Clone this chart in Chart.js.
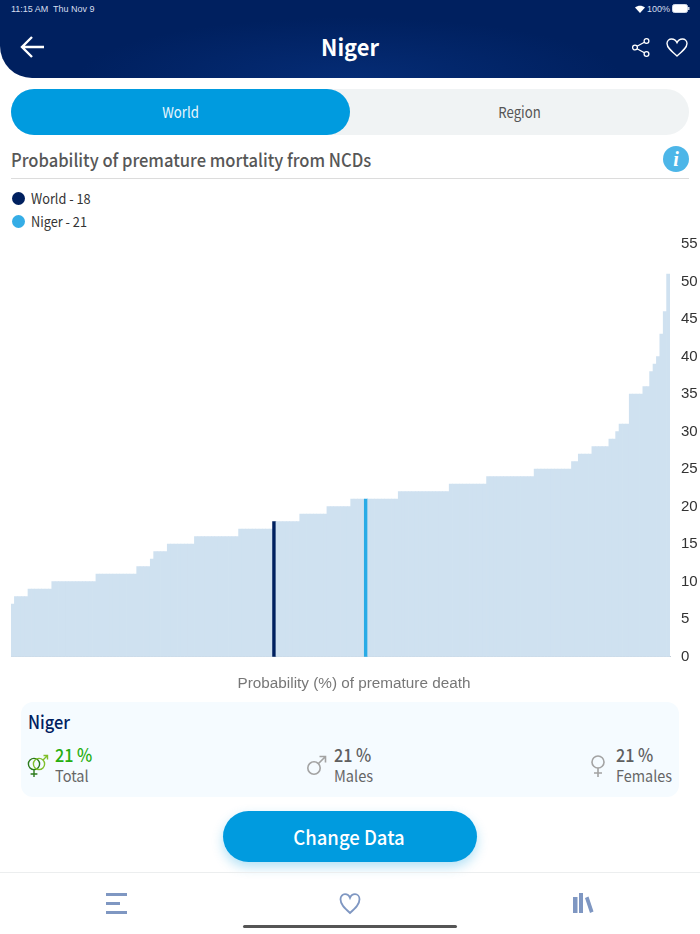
<!DOCTYPE html>
<html>
<head>
<meta charset="utf-8">
<title>Niger</title>
<script src="https://cdn.jsdelivr.net/npm/chart.js@4/dist/chart.umd.min.js"></script>
<style>
html, body { margin: 0; padding: 0; background: #fff; }
body { position: relative; width: 700px; height: 934px; overflow: hidden; font-family: "Noto Sans CJK SC", "Noto Sans", sans-serif; }
.abs { position: absolute; white-space: nowrap; line-height: 1; transform-origin: left center; }
.mid { transform-origin: center center; }
#header { position: absolute; left: 0; top: 0; width: 700px; height: 78px; border-bottom-left-radius: 32px; background: radial-gradient(ellipse at 50% 100%, #052c75 0%, #00205f 55%); }
#tabs { position: absolute; left: 11px; top: 89px; width: 678px; height: 46px; border-radius: 23px; background: #f0f3f4; }
#tabOn { position: absolute; left: 11px; top: 89px; width: 339px; height: 46px; border-radius: 23px; background: #009bdf; }
#rule { position: absolute; left: 11px; top: 178px; width: 678px; height: 1px; background: #dcdcdc; }
.dot { position: absolute; left: 12px; width: 13px; height: 13px; border-radius: 50%; }
#card { position: absolute; left: 21px; top: 702px; width: 658px; height: 95px; border-radius: 12px; background: #f5fbff; }
#btn { position: absolute; left: 223px; top: 811px; width: 254px; height: 51px; border-radius: 26px; background: #009bdf; box-shadow: 0 5px 12px rgba(0,155,223,.3); }
#navLine { position: absolute; left: 0; top: 872px; width: 700px; height: 1px; background: #eceeef; }
#homeBar { position: absolute; left: 243px; top: 925px; width: 214px; height: 3px; border-radius: 2px; background: #555; }
#chart { position: absolute; left: 3px; top: 224px; }
svg { position: absolute; overflow: visible; }
</style>
</head>
<body>
<div id="header"></div>
<div class="abs" style="left:11px;top:4px;font:9px 'Liberation Sans';color:#d5deee">11:15 AM</div>
<div class="abs" style="left:53px;top:4px;font:9px 'Liberation Sans';color:#d5deee">Thu Nov 9</div>
<div class="abs" style="left:647px;top:4px;font:9px 'Liberation Sans';color:#d5deee">100%</div>
<svg style="left:635px;top:5px" width="10" height="8" viewBox="0 0 10 8"><path d="M0 2.6C3 0 7 0 10 2.6L5 8Z" fill="#fff"/></svg>
<svg style="left:672px;top:4px" width="18" height="9" viewBox="0 0 18 9"><rect x="0.5" y="0.5" width="15" height="8" rx="2" fill="#fff" stroke="#cfd8e8"/><rect x="16" y="3" width="1.5" height="3" fill="#cfd8e8"/></svg>
<svg style="left:20px;top:36px" width="25" height="22" viewBox="0 0 25 22"><path d="M12 1L2 11L12 21M2 11H24" fill="none" stroke="#fff" stroke-width="2.4"/></svg>
<div class="abs mid" style="left:0;width:700px;top:35px;text-align:center;font-size:23px;font-weight:700;color:#fff;transform:scaleX(.95)">Niger</div>
<svg style="left:632px;top:38px" width="18" height="19" viewBox="0 0 18 19"><g fill="none" stroke="#fff" stroke-width="1.3"><circle cx="3" cy="9.5" r="2.4"/><circle cx="14.5" cy="3" r="2.4"/><circle cx="14.5" cy="16" r="2.4"/><path d="M5 8.3L12.4 4.2M5 10.7L12.4 14.8"/></g></svg>
<svg style="left:666px;top:38px" width="22" height="19" viewBox="0 0 22 19"><path d="M11 18C5 13 1 9.5 1 5.6C1 2.8 3.2 1 5.6 1C7.8 1 9.8 2.2 11 4.6C12.2 2.2 14.2 1 16.4 1C18.8 1 21 2.8 21 5.6C21 9.5 17 13 11 18Z" fill="none" stroke="#fff" stroke-width="1.4"/></svg>

<div id="tabs"></div>
<div id="tabOn"></div>
<div class="abs mid" style="left:11px;width:339px;top:104px;text-align:center;font-size:15px;color:#e8f6fd;transform:scaleX(.88)">World</div>
<div class="abs mid" style="left:350px;width:339px;top:104px;text-align:center;font-size:15px;color:#555;transform:scaleX(.88)">Region</div>

<div class="abs" style="left:11px;top:150px;font-size:18px;font-weight:500;color:#575757;transform:scaleX(.92)">Probability of premature mortality from NCDs</div>
<svg style="left:663px;top:146px" width="26" height="26" viewBox="0 0 26 26"><circle cx="13" cy="13" r="13" fill="#4db6e8"/><text x="13" y="20" text-anchor="middle" font-family="Liberation Serif" font-style="italic" font-weight="700" font-size="20" fill="#fff">i</text></svg>
<div id="rule"></div>

<div class="dot" style="top:192px;background:#00205f"></div>
<div class="abs" id="legendWorld" style="left:31px;top:191px;font-size:14px;color:#333;transform:scaleX(.91)"></div>
<div class="dot" style="top:215px;background:#35ade6"></div>
<div class="abs" id="legendNiger" style="left:31px;top:214px;font-size:14px;color:#333;transform:scaleX(.91)"></div>

<canvas id="chart" width="694" height="475" style="width:694px;height:475px"></canvas>

<div id="card"></div>
<div class="abs" style="left:28px;top:712px;font-size:18px;font-weight:500;color:#00205f;transform:scaleX(.91)">Niger</div>

<svg style="left:26px;top:754px" width="24" height="24" viewBox="0 0 24 24"><g fill="none" stroke-width="1.4"><circle cx="8" cy="10" r="5.6" stroke="#2b7a1b"/><path d="M8 15.6V23M4.6 20H11.4" stroke="#2b7a1b"/><circle cx="13" cy="10" r="5.6" stroke="#7fbf2a"/><path d="M17 6L21.5 1.5M17.5 1.5H21.5V5.5" stroke="#7fbf2a"/></g></svg>
<div class="abs" style="left:55px;top:745px;font-size:18px;font-weight:500;color:#27ae0f;transform:scaleX(.9)">21 %</div>
<div class="abs" style="left:55px;top:768px;font-size:15.5px;color:#666;transform:scaleX(.94)">Total</div>

<svg style="left:306px;top:755px" width="21" height="21" viewBox="0 0 21 21"><g fill="none" stroke="#a3a3a3" stroke-width="1.6"><circle cx="8" cy="13" r="6.2"/><path d="M12.5 8.5L19.5 1.5M13.5 1.5H19.5V7.5"/></g></svg>
<div class="abs" style="left:334px;top:745px;font-size:18px;font-weight:500;color:#5f5f5f;transform:scaleX(.9)">21 %</div>
<div class="abs" style="left:334px;top:768px;font-size:15.5px;color:#666;transform:scaleX(.94)">Males</div>

<svg style="left:590px;top:754px" width="16" height="24" viewBox="0 0 16 24"><g fill="none" stroke="#a3a3a3" stroke-width="1.6"><circle cx="8" cy="8" r="6"/><path d="M8 14V23M4 19H12"/></g></svg>
<div class="abs" style="left:616px;top:745px;font-size:18px;font-weight:500;color:#5f5f5f;transform:scaleX(.9)">21 %</div>
<div class="abs" style="left:616px;top:768px;font-size:15.5px;color:#666;transform:scaleX(.93)">Females</div>

<div id="btn"></div>
<div class="abs mid" style="left:223px;width:252px;top:827px;text-align:center;font-size:20px;font-weight:500;color:#fff;transform:scaleX(.925)">Change Data</div>
<div id="navLine"></div>

<svg style="left:106px;top:893px" width="22" height="21" viewBox="0 0 22 21"><g fill="#7f97c2"><rect x="0" y="0" width="21" height="3"/><rect x="0" y="9" width="14" height="3"/><rect x="0" y="18" width="21" height="3"/></g></svg>
<svg style="left:339px;top:893px" width="22" height="21" viewBox="0 0 22 21"><path d="M11 20C5 14.5 1.5 11 1.5 6.2C1.5 3.2 3.6 1.2 6 1.2C8 1.2 10 2.4 11 4.8C12 2.4 14 1.2 16 1.2C18.4 1.2 20.5 3.2 20.5 6.2C20.5 11 17 14.5 11 20Z" fill="none" stroke="#7f97c2" stroke-width="1.8"/></svg>
<svg style="left:573px;top:893px" width="21" height="20" viewBox="0 0 21 20"><g fill="#7f97c2"><rect x="0" y="4" width="4.5" height="16"/><rect x="6" y="0" width="4" height="20"/><path d="M12 5L15.5 3.5L20.5 18.5L17 20Z"/></g></svg>
<div id="homeBar"></div>

<script>
// one bar per country, sorted low to high
var probability = [
	7, 8, 8, 8, 8, 9, 9, 9, 9, 9, 9, 9,
	10, 10, 10, 10, 10, 10, 10, 10, 10, 10, 10, 10, 10,
	11, 11, 11, 11, 11, 11, 11, 11, 11, 11, 11, 11,
	12, 12, 12, 12, 13, 14, 14, 14, 14,
	15, 15, 15, 15, 15, 15, 15, 15,
	16, 16, 16, 16, 16, 16, 16, 16, 16, 16, 16, 16, 16,
	17, 17, 17, 17, 17, 17, 17, 17, 17, 17,
	18, 18, 18, 18, 18, 18, 18, 18,
	19, 19, 19, 19, 19, 19, 19, 19,
	20, 20, 20, 20, 20, 20, 20,
	21, 21, 21, 21, 21, 21, 21, 21, 21, 21, 21, 21, 21, 21,
	22, 22, 22, 22, 22, 22, 22, 22, 22, 22, 22, 22, 22, 22, 22,
	23, 23, 23, 23, 23, 23, 23, 23, 23, 23, 23,
	24, 24, 24, 24, 24, 24, 24, 24, 24, 24, 24, 24, 24, 24,
	25, 25, 25, 25, 25, 25, 25, 25, 25, 25, 25,
	26, 26, 27, 27, 27, 27, 28, 28, 28, 28, 28,
	29, 29, 30, 31, 31, 31, 35, 35, 35, 35, 36, 36,
	38, 39, 40, 43, 46, 51
];
var ranks = probability.map(function(v, i) { return i + 1; });
var yTicks = [0, 5, 10, 15, 20, 25, 30, 35, 40, 45, 50, 55];
var worldRank = 78;
var nigerRank = 105;
var worldValue = 18;
var nigerValue = 21;
var xTitle = 'Probability (%) of premature death';

document.getElementById('legendWorld').textContent = 'World - ' + worldValue;
document.getElementById('legendNiger').textContent = 'Niger - ' + nigerValue;

function barColor(ctx) {
	var rank = ranks[ctx.dataIndex];
	if (rank == worldRank) return '#00205f';
	if (rank == nigerRank) return '#29abe6';
	return '#cfe1f0';
}

var chart = new Chart(document.getElementById('chart').getContext('2d'), {
	type: 'bar',
	data: {
		labels: ranks,
		datasets: [{
			data: probability,
			backgroundColor: barColor,
			borderWidth: 0,
			barPercentage: 1,
			categoryPercentage: 1
		}]
	},
	options: {
		responsive: false,
		animation: false,
		layout: { padding: { left: 8, top: 7.5, right: 0, bottom: 0 } },
		plugins: {
			legend: { display: false },
			tooltip: { enabled: false },
			title: {
				display: true,
				text: xTitle,
				position: 'bottom',
				color: '#777',
				font: { family: 'Liberation Sans', size: 15.3, weight: 'normal' },
				padding: { top: 10, bottom: 6 }
			}
		},
		scales: {
			x: {
				grid: { display: false },
				ticks: { display: false },
				border: { color: '#c3cdd6', width: 1 }
			},
			y: {
				position: 'right',
				min: 0,
				max: 55,
				afterBuildTicks: function(axis) {
					axis.ticks = yTicks.map(function(v) { return { value: v }; });
				},
				afterFit: function(axis) { axis.width = 27; },
				grid: { display: false, drawTicks: false },
				border: { display: false },
				ticks: {
					color: '#333',
					padding: 11,
					font: { family: 'Liberation Sans', size: 15 }
				}
			}
		}
	}
});
</script>
</body>
</html>
